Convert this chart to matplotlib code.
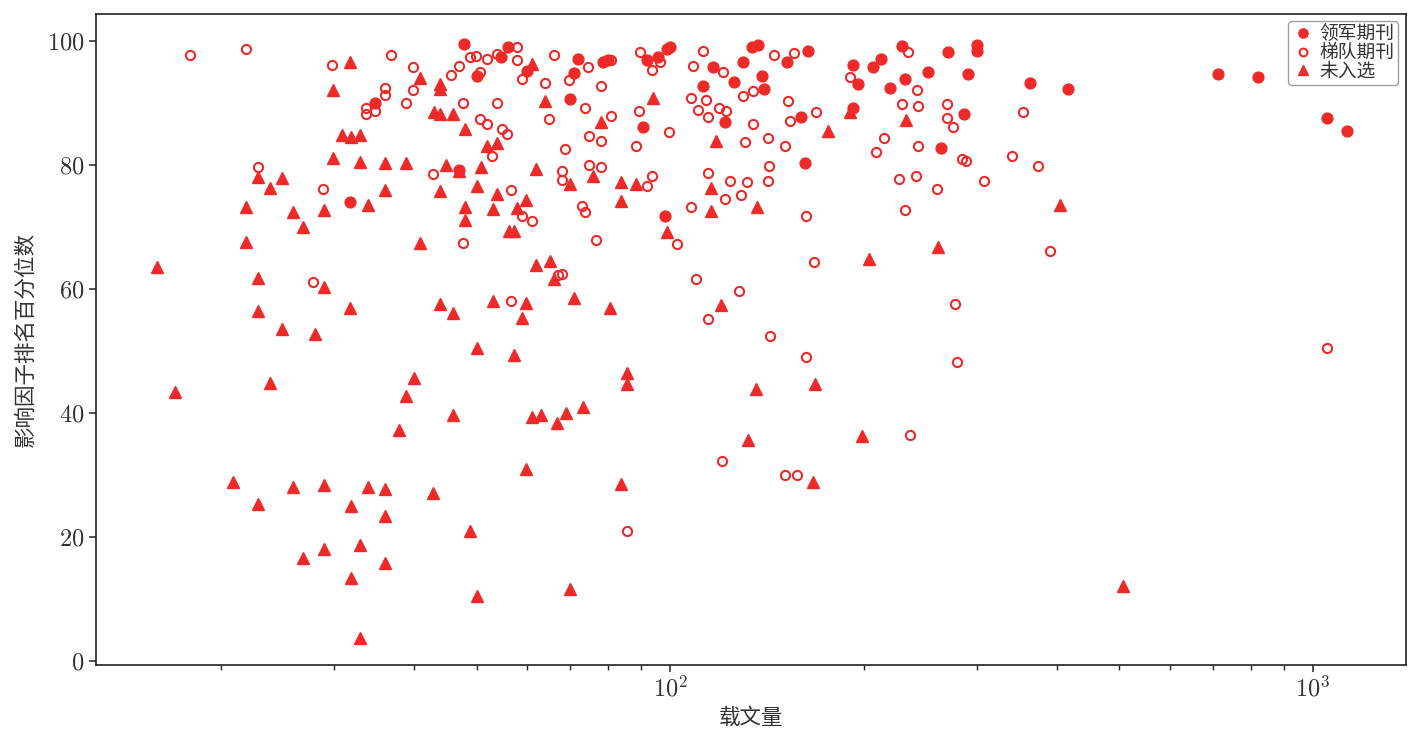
import matplotlib
matplotlib.use('Agg')
import matplotlib.pyplot as plt
from matplotlib.ticker import LogLocator, NullFormatter

plt.rcParams.update({
    'font.family': ['cmr10', 'Noto Sans CJK SC'],
    'mathtext.fontset': 'cm',
    'axes.formatter.use_mathtext': True,
    'axes.unicode_minus': False,
    'font.size': 15,
})

# 领军期刊
leader_x = [47.8, 56.0, 54.6, 50.0, 59.9, 72.0, 70.9, 69.9, 78.7, 80.0, 92.0, 100, 99.0, 95.9,
            90.9, 98.2, 112.6, 116.8, 121.8, 46.9, 31.8, 34.8, 134.0, 136.9, 163.7, 130.0,
            151.9, 139.2, 125.8, 140.2, 159.6, 162.2, 192.7, 207.2, 213.1, 229.1, 196.2,
            219.7, 232.0, 251.8, 270.9, 300.5, 300.5, 291.0, 286.6, 192.5, 263.5, 363.3,
            416.5, 711, 821, 1052, 1129]
leader_y = [99.5, 99.1, 97.4, 94.4, 95.2, 97.1, 94.8, 90.6, 96.6, 96.9, 96.9, 99.0, 98.7, 97.5,
            86.2, 71.8, 92.8, 95.9, 86.9, 79.2, 74.1, 90.0, 99.1, 99.4, 98.4, 96.6,
            96.7, 94.4, 93.4, 92.3, 87.8, 80.3, 96.1, 95.9, 97.1, 99.3, 93.1,
            92.4, 93.9, 95.1, 98.3, 99.4, 98.5, 94.7, 88.2, 89.2, 82.7, 93.2,
            92.3, 94.7, 94.2, 87.6, 85.5]

# 梯队期刊
echelon_x = [17.9, 21.9, 29.8, 36.8, 39.8, 36.0, 36.0, 39.8, 38.8, 34.8, 33.7, 33.7, 22.9, 28.9,
             42.8, 27.8, 46.9, 45.7, 48.9, 49.9, 51.9, 53.8, 50.7, 57.7, 57.8, 58.8, 63.8,
             65.9, 69.7, 74.6, 78.2, 81.0, 73.8, 81.0, 89.8, 93.6, 96.5, 108.7, 112.6, 120.7,
             107.7, 113.7, 110.7, 114.6, 119.0, 122.4, 89.6, 47.7, 53.8, 50.7, 51.9, 54.7,
             55.7, 52.9, 64.9, 74.8, 78.2, 68.7, 99.8, 88.6, 67.8, 67.8, 74.8, 78.2, 93.6,
             92.0, 114.6, 124.0, 121.8, 107.7, 56.6, 58.8, 60.9, 72.9, 73.8, 47.7, 76.7,
             102.7, 67.0, 67.8, 109.6, 56.6, 114.6, 120.6, 85.7, 145.2, 155.9, 134.8, 129.7,
             152.7, 168.7, 153.7, 134.8, 130.7, 141.9, 150.9, 142.6, 131.8, 141.9, 128.8,
             163.0, 167.7, 127.8, 142.8, 190.5, 234.3, 242.0, 229.6, 242.6, 270.0, 269.2,
             275.4, 215.3, 209.2, 242.6, 284.5, 289.0, 340.0, 373.6, 354.0, 308.0, 226.8,
             241.7, 259.8, 232.3, 390.0, 277.5, 163.0, 279.9, 236.5, 150.9, 157.7, 1052]
echelon_y = [97.8, 98.8, 96.2, 97.8, 95.8, 92.5, 91.3, 92.2, 90.1, 88.7, 89.2, 88.3, 79.7, 76.2,
             78.5, 61.1, 96.0, 94.6, 97.4, 97.6, 97.2, 97.9, 95.0, 96.9, 99.1, 93.9, 93.3,
             97.8, 93.7, 95.9, 92.8, 96.9, 89.2, 88.0, 98.2, 95.3, 96.6, 96.0, 98.4, 95.1,
             90.8, 90.5, 88.9, 87.7, 89.2, 88.8, 88.8, 90.0, 90.0, 87.4, 86.6, 85.8,
             85.0, 81.5, 87.4, 84.7, 83.9, 82.6, 85.4, 83.1, 79.0, 77.6, 80.0, 79.7, 78.2,
             76.7, 78.8, 77.5, 74.5, 73.2, 76.0, 71.8, 71.0, 73.4, 72.4, 67.4, 67.9,
             67.2, 62.3, 62.4, 61.6, 58.1, 55.2, 32.3, 20.9, 97.8, 98.1, 92.0, 91.2,
             90.3, 88.5, 87.2, 86.7, 83.8, 84.4, 83.1, 79.9, 77.2, 77.4, 75.1,
             71.8, 64.3, 59.7, 52.4, 94.2, 98.2, 92.1, 89.8, 89.6, 89.9, 87.6,
             86.1, 84.3, 82.1, 83.1, 81.0, 80.7, 81.4, 79.8, 88.5, 77.5, 77.7,
             78.3, 76.2, 72.7, 66.2, 57.6, 49.0, 48.2, 36.5, 30.0, 30.0, 50.5]

# 未入选
other_x = [15.9, 17.0, 20.9, 21.9, 21.9, 22.9, 22.9, 22.9, 22.9, 23.9, 23.9, 24.9, 24.9, 25.9,
           25.9, 26.9, 26.9, 28.0, 29.0, 29.0, 29.0, 29.0, 29.9, 29.9, 30.9, 31.8, 31.9, 31.8,
           31.9, 31.9, 32.9, 32.9, 32.9, 32.9, 33.9, 33.9, 36.0, 36.0, 36.0, 36.0, 36.0, 37.9,
           38.8, 38.8, 39.9, 40.8, 40.8, 42.8, 42.9, 43.8, 43.8, 43.9, 43.9, 43.9, 44.8, 46.0,
           46.0, 46.0, 47.9, 47.9, 47.9, 46.9, 48.9, 50.0, 50.0, 50.0, 50.8, 52.0, 53.0, 53.0,
           53.9, 53.9, 56.1, 57.1, 57.1, 57.7, 58.9, 59.8, 59.8, 59.8, 61.1, 61.1, 61.9, 61.9,
           62.9, 63.8, 65.0, 66.0, 66.8, 69.0, 69.9, 69.9, 70.9, 73.1, 75.9, 78.2, 80.7, 83.8,
           83.9, 83.9, 85.8, 85.8, 88.6, 94.0, 99.0, 115.8, 115.8, 118.0, 120.2, 132.1, 135.9,
           136.5, 167.1, 168.1, 175.8, 190.5, 199.2, 203.6, 233.0, 260.7, 404.0, 507]
other_y = [63.6, 43.4, 28.8, 73.3, 67.6, 78.1, 61.7, 56.5, 25.3, 76.3, 44.8, 77.9, 53.5, 72.5,
           28.0, 70.0, 16.6, 52.8, 72.7, 60.3, 28.3, 18.1, 92.1, 81.2, 84.9, 96.6, 84.6, 56.9,
           24.9, 13.3, 84.9, 80.5, 18.6, 3.7, 73.6, 28.1, 80.3, 76.0, 27.7, 23.4, 15.8, 37.3,
           80.3, 42.8, 45.6, 94.0, 67.4, 27.0, 88.6, 75.9, 57.6, 93.1, 92.3, 88.2, 80.1, 88.3,
           56.1, 39.7, 85.8, 73.3, 71.2, 79.0, 20.9, 76.7, 50.4, 10.4, 79.7, 83.1, 72.9, 58.0,
           83.5, 75.3, 69.3, 69.3, 49.4, 73.1, 55.3, 74.3, 57.7, 31.0, 96.3, 39.3, 79.4, 63.8,
           39.6, 90.3, 64.5, 61.6, 38.4, 40.0, 77.0, 11.6, 58.6, 40.9, 78.3, 86.9, 56.9, 28.5,
           77.2, 74.2, 46.4, 44.7, 77.0, 90.8, 69.2, 76.3, 72.6, 83.9, 57.5, 35.6, 43.9,
           73.2, 28.8, 44.6, 85.5, 88.6, 36.2, 64.8, 87.3, 66.8, 73.6, 12.1]

red = '#ee2a28'
text_color = '#333333'

fig = plt.figure(figsize=(14.21, 7.32), dpi=100)
ax = fig.add_axes([0.0676, 0.0915, 0.9218, 0.8894])

ax.plot(leader_x, leader_y, 'o', color=red, ms=7.8, mec=red, label='领军期刊', zorder=3)
ax.plot(echelon_x, echelon_y, 'o', color=red, ms=6.6, mfc='none', mec=red, mew=1.5,
        label='梯队期刊', zorder=3)
ax.plot(other_x, other_y, '^', color=red, ms=8.2, mec=red, label='未入选', zorder=3)

ax.set_xscale('log')
ax.set_xlim(12.8, 1395)
ax.set_ylim(-0.7, 104.4)
ax.set_yticks([0, 20, 40, 60, 80, 100])
ax.xaxis.set_minor_locator(LogLocator(base=10, subs=range(2, 10)))
ax.xaxis.set_minor_formatter(NullFormatter())

for s in ax.spines.values():
    s.set_linewidth(1.2)
    s.set_color('#222222')
ax.tick_params(which='major', length=5, width=1.1, colors='#222222', labelcolor=text_color,
               labelsize=17.5)
ax.tick_params(axis='x', which='major', pad=3)
ax.tick_params(which='minor', length=3.5, width=1.0, colors='#222222')

ax.set_xlabel('载文量', fontsize=15.5, color=text_color, labelpad=4)
ax.set_ylabel('影响因子排名百分位数', fontsize=15.5, color=text_color, labelpad=8)

leg = ax.legend(loc='upper right', fontsize=13.5, frameon=True, fancybox=True,
                borderpad=0.2, handletextpad=0.3, labelspacing=0.05, handlelength=1.2,
                borderaxespad=0.4, markerscale=0.85)
leg.get_frame().set_edgecolor('#888888')
leg.get_frame().set_linewidth(1.0)
for t in leg.get_texts():
    t.set_color(text_color)

fig.savefig('out.png', dpi=100)
